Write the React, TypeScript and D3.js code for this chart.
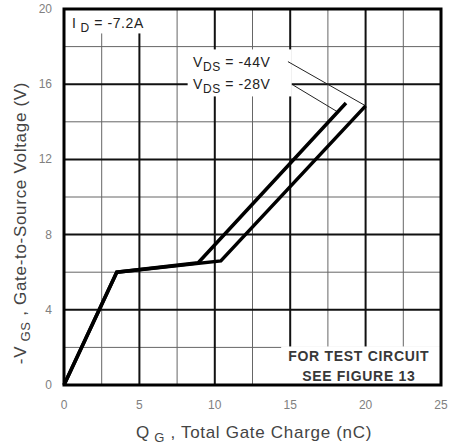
import React from 'react'
import * as d3 from 'd3'

// gate charge (nC) vs -Vgs (V)
const charge28 = [0, 3.5, 8.9, 18.7]
const vgs28 = [0, 6.0, 6.5, 15.0]
const charge44 = [0, 3.5, 10.4, 20.0]
const vgs44 = [0, 6.0, 6.6, 14.85]

const xTicks = [0, 5, 10, 15, 20, 25]
const yTicks = [0, 4, 8, 12, 16, 20]
const xMinor = [2.5, 7.5, 12.5, 17.5, 22.5]
const yMinor = [2, 6, 10, 14, 18]

const W = 449
const H = 446
const margin = {top: 9, right: 8, bottom: 61, left: 64}

export default function App() {
    const x = d3.scaleLinear().domain([0, 25]).range([margin.left, W - margin.right])
    const y = d3.scaleLinear().domain([0, 20]).range([H - margin.bottom, margin.top])

    const line = d3.line<[number, number]>()
        .x(d => x(d[0]))
        .y(d => y(d[1]))

    const pts28 = charge28.map((c, i) => [c, vgs28[i]] as [number, number])
    const pts44 = charge44.map((c, i) => [c, vgs44[i]] as [number, number])

    const x0 = x(0), x1 = x(25), y0 = y(0), y1 = y(20)
    const tickColor = '#808080'
    const font = '"Liberation Sans", Arial, sans-serif'

    return (
        <svg width={W} height={H} style={{position: 'absolute', left: 0, top: 0, background: '#fff'}}>
            {/* minor grid */}
            {xMinor.map(v => <line key={'xm' + v} x1={x(v)} x2={x(v)} y1={y0} y2={y1} stroke="#666" strokeWidth={1}/>)}
            {yMinor.map(v => <line key={'ym' + v} x1={x0} x2={x1} y1={y(v)} y2={y(v)} stroke="#666" strokeWidth={1}/>)}
            {/* major grid */}
            {xTicks.slice(1, -1).map(v => <line key={'xM' + v} x1={x(v)} x2={x(v)} y1={y0} y2={y1} stroke="#111" strokeWidth={2}/>)}
            {yTicks.slice(1, -1).map(v => <line key={'yM' + v} x1={x0} x2={x1} y1={y(v)} y2={y(v)} stroke="#111" strokeWidth={2}/>)}

            {/* label boxes that hide the grid */}
            <rect x={x0} y={y1} width={x(5.7) - x0} height={y(18.7) - y1} fill="#fff"/>
            <rect x={x(8.2)} y={y(17.85)} width={x(15.1) - x(8.2)} height={y(15.35) - y(17.85)} fill="#fff"/>
            <rect x={x(14.4)} y={y(2.05)} width={x1 - x(14.4)} height={y0 - y(2.05)} fill="#fff"/>

            {/* pointer lines */}
            <line x1={x(14.85)} y1={y(17.2)} x2={x(20.0)} y2={y(14.85)} stroke="#222" strokeWidth={1}/>
            <line x1={x(15.2)} y1={y(15.95)} x2={x(18.2)} y2={y(14.5)} stroke="#222" strokeWidth={1}/>

            {/* curves */}
            <path d={line(pts44) || ''} fill="none" stroke="#000" strokeWidth={3.5} strokeLinejoin="miter"/>
            <path d={line(pts28) || ''} fill="none" stroke="#000" strokeWidth={3.5} strokeLinejoin="miter"/>

            {/* frame */}
            <rect x={x0} y={y1} width={x1 - x0} height={y0 - y1} fill="none" stroke="#000" strokeWidth={3}/>

            {/* annotations */}
            <text x={x0 + 8} y={y1 + 19} fontFamily={font} fontSize={14} fill="#222" letterSpacing={0.6}>
                I<tspan fontSize={12} dy={4}> D</tspan><tspan dy={-4}> = -7.2A</tspan>
            </text>
            <text x={x(8.55)} y={y(16.9)} fontFamily={font} fontSize={14} fill="#222" letterSpacing={0.6}>
                V<tspan fontSize={12} dy={4}>DS</tspan><tspan dy={-4}>  = -44V</tspan>
            </text>
            <text x={x(8.55)} y={y(15.75)} fontFamily={font} fontSize={14} fill="#222" letterSpacing={0.6}>
                V<tspan fontSize={12} dy={4}>DS</tspan><tspan dy={-4}>  = -28V</tspan>
            </text>
            <text x={x(19.55)} y={y(1.3)} fontFamily={font} fontSize={14} fontWeight="bold" fill="#383838" textAnchor="middle" letterSpacing={0.7}>FOR TEST CIRCUIT</text>
            <text x={x(19.55)} y={y(0.2)} fontFamily={font} fontSize={14} fontWeight="bold" fill="#383838" textAnchor="middle" letterSpacing={0.7}>SEE FIGURE 13</text>

            {/* tick labels */}
            {xTicks.map(v => (
                <text key={'xt' + v} x={x(v)} y={y0 + 24} fontFamily={font} fontSize={12} fill={tickColor} textAnchor="middle">{v}</text>
            ))}
            {yTicks.map(v => (
                <text key={'yt' + v} x={x0 - 12} y={y(v) + 4} fontFamily={font} fontSize={12} fill={tickColor} textAnchor="end">{v}</text>
            ))}

            {/* axis titles */}
            <text x={254} y={H - 8} fontFamily={font} fontSize={17} fill="#444" textAnchor="middle" letterSpacing={0.7}>
                Q<tspan fontSize={13} dy={4}> G</tspan><tspan dy={-4}> , Total Gate Charge (nC)</tspan>
            </text>
            <text transform={`translate(26,${(y0 + y1) / 2 + 26}) rotate(-90)`} fontFamily={font} fontSize={17} fill="#444" textAnchor="middle" letterSpacing={0.7}>
                -V<tspan fontSize={13} dy={4}> GS</tspan><tspan dy={-4}> , Gate-to-Source Voltage (V)</tspan>
            </text>
        </svg>
    )
}
